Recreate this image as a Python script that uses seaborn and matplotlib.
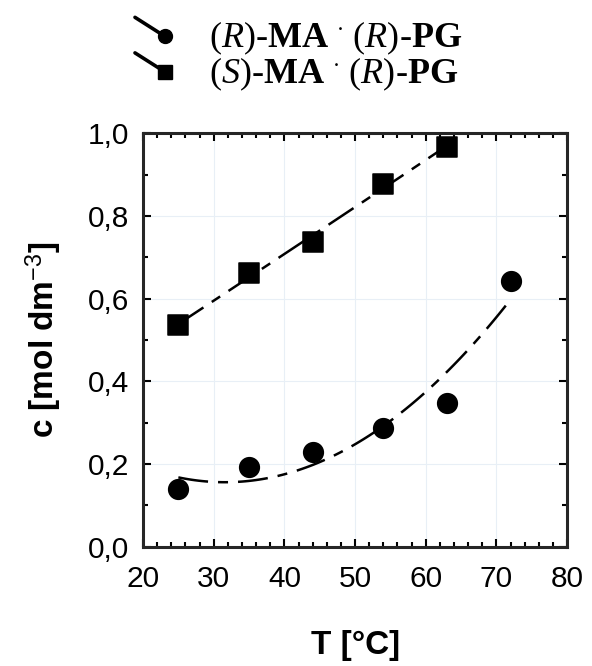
import seaborn as sns
import matplotlib.pyplot as plt
import matplotlib.ticker as mticker
from matplotlib.lines import Line2D
from matplotlib.legend_handler import HandlerBase
import pandas as pd

# data
t_r = [25, 35, 44, 54, 63, 72]
c_r = [0.140, 0.192, 0.229, 0.287, 0.347, 0.643]
t_s = [25, 35, 44, 54, 63]
c_s = [0.536, 0.663, 0.737, 0.877, 0.967]

xticks = [20, 30, 40, 50, 60, 70, 80]
yticks = [0.0, 0.2, 0.4, 0.6, 0.8, 1.0]
ytick_labels = ["0,0", "0,2", "0,4", "0,6", "0,8", "1,0"]

labels = [r"$(\mathit{R})\text{-}\mathbf{MA}\ ^{\cdot}\ (\mathit{R})\text{-}\mathbf{PG}$",
          r"$(\mathit{S})\text{-}\mathbf{MA}\ ^{\cdot}\ (\mathit{R})\text{-}\mathbf{PG}$"]

df_r = pd.DataFrame({"T": t_r, "c": c_r})
df_s = pd.DataFrame({"T": t_s, "c": c_s})

sns.set_style("ticks")
plt.rcParams["font.family"] = ["Liberation Sans", "DejaVu Sans"]
plt.rcParams["text.color"] = "black"
plt.rcParams["axes.labelcolor"] = "black"
plt.rcParams["xtick.color"] = "black"
plt.rcParams["ytick.color"] = "black"
plt.rcParams["mathtext.fontset"] = "custom"
plt.rcParams["mathtext.rm"] = "Liberation Serif"
plt.rcParams["mathtext.it"] = "Liberation Serif:italic"
plt.rcParams["mathtext.bf"] = "Liberation Serif:bold"
plt.rcParams["mathtext.sf"] = "Liberation Sans"


class SlantHandler(HandlerBase):
    # short slanted stroke ending in the marker, as in the original legend
    def create_artists(self, legend, orig_handle, xdescent, ydescent,
                       width, height, fontsize, trans):
        x0, y0 = -xdescent, -ydescent
        xe, ye = x0 + width * 0.8, y0 + height * 0.45
        line = Line2D([x0 + width * 0.05, xe], [y0 + height * 1.2, ye],
                      color="black", lw=2.6, transform=trans)
        mk = Line2D([xe], [ye], marker=orig_handle.get_marker(), color="black",
                    markersize=orig_handle.get_markersize(), lw=0,
                    transform=trans)
        return [line, mk]


fig = plt.figure(figsize=(5.92, 6.66), dpi=100)
ax = fig.add_axes([0.2416, 0.179, 0.7164, 0.621])

kws = dict(color="black", lw=1.8, dashes=(12, 4, 4, 4))
sns.regplot(data=df_r, x="T", y="c", order=2, ci=None, scatter=False,
            line_kws=kws, truncate=True, ax=ax)
sns.regplot(data=df_s, x="T", y="c", order=2, ci=None, scatter=False,
            line_kws=kws, truncate=True, ax=ax)
sns.scatterplot(data=df_r, x="T", y="c", marker="o", s=200, color="black",
                edgecolor="black", ax=ax, zorder=5)
sns.scatterplot(data=df_s, x="T", y="c", marker="s", s=190, color="black",
                edgecolor="black", ax=ax, zorder=5)

ax.set_xlim(20, 80)
ax.set_ylim(0, 1.0)
ax.xaxis.set_major_locator(mticker.FixedLocator(xticks))
ax.xaxis.set_minor_locator(mticker.MultipleLocator(2))
ax.yaxis.set_major_locator(mticker.FixedLocator(yticks))
ax.yaxis.set_minor_locator(mticker.MultipleLocator(0.1))
ax.set_yticklabels(ytick_labels)
ax.tick_params(which="both", direction="in", top=True, right=True, width=1.5,
               labelsize=21.5)
ax.tick_params(axis="x", which="major", pad=13)
ax.tick_params(axis="y", which="major", pad=10)
ax.tick_params(which="major", length=6)
ax.tick_params(which="minor", length=3.5)
ax.grid(True, which="major", color="#e8eff6", lw=0.8)
for sp in ax.spines.values():
    sp.set_linewidth(2.2)

ax.set_xlabel("T [°C]", fontsize=24, fontweight="bold", labelpad=27)
ax.set_ylabel(r"c [mol dm$^{\mathsf{-3}}$]", fontsize=24, fontweight="bold",
              labelpad=17)

handles = [Line2D([], [], marker="o", markersize=10),
           Line2D([], [], marker="s", markersize=10)]
fig.legend(handles, labels, loc="upper left", bbox_to_anchor=(133 / 592, 1 - 20 / 666),
           frameon=False, fontsize=26, handlelength=1.1, handletextpad=1.0,
           labelspacing=-0.05, borderpad=0, borderaxespad=0,
           handler_map={Line2D: SlantHandler()})

fig.savefig("out.png", dpi=100)
